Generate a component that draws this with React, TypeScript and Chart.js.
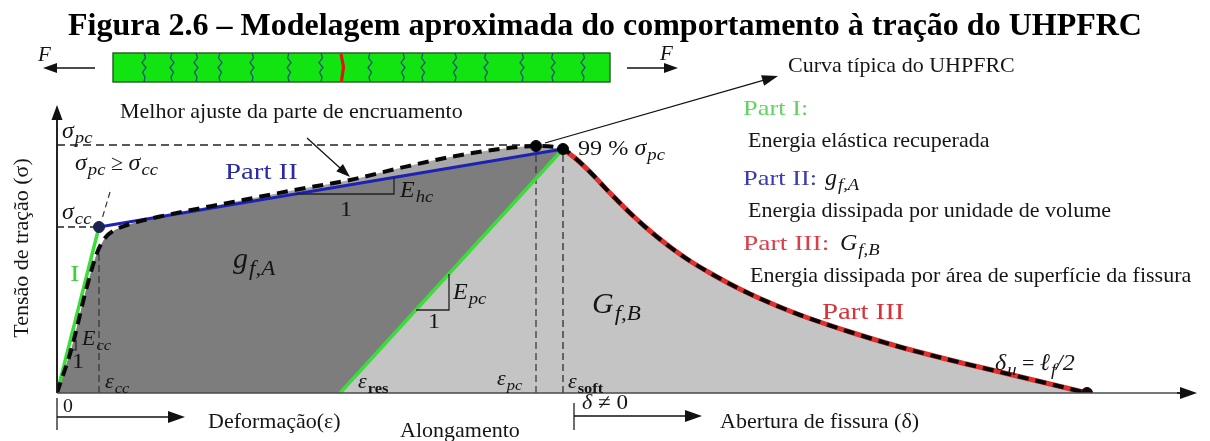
import { useEffect, useRef } from 'react';
import { Chart, registerables } from 'chart.js';

Chart.register(...registerables);

// Schematic axes: strain / crack opening (x) and tensile stress (y), arbitrary units
const X_MAX = 114;
const Y_MAX = 28.8;

// Characteristic values of the tensile response
const SIGMA_PC = 24.8;
const SIGMA_CC = 16.6;
const EPS_CC = 4.2;
const EPS_RES = 28.3;
const EPS_PC = 47.9;
const SIGMA_EPS_PC = 24.7;
const EPS_SOFT = 50.6;
const SIGMA_SOFT = 24.4;
const DELTA_U = 103.0;
const EPS_CC_CURVE = 14.6;

// Part I – linear elastic branch
const elasticPart = [[0, 0], [EPS_CC, SIGMA_CC]];
// Part II – best linear fit of the strain-hardening branch
const hardeningFit = [[EPS_CC, SIGMA_CC], [EPS_SOFT, SIGMA_SOFT]];
// Typical UHPFRC curve up to the softening point
const typicalPrePeak = [
  [0, 0], [1.5, 4.6], [2.9, 10.3], [4.0, 14.0], [4.8, 15.5], [5.8, 16.3], [7.0, 16.8],
  [11.0, 17.8], [17.6, 19.1], [24.3, 20.4], [29.3, 21.3], [34.3, 22.5], [39.3, 23.6],
  [44.3, 24.4], [EPS_PC, SIGMA_EPS_PC], [EPS_SOFT, SIGMA_SOFT],
];
// Part III – softening branch (crack opening)
const softening = [
  [EPS_SOFT, SIGMA_SOFT], [51.8, 23.5], [53.3, 22.1], [55.3, 20.0], [57.3, 18.0], [59.3, 16.2],
  [61.3, 14.6], [63.3, 13.2], [65.3, 12.0], [67.3, 10.9], [69.3, 9.9], [71.8, 8.8], [74.3, 7.8],
  [79.3, 6.1], [84.3, 4.6], [89.3, 3.3], [94.3, 2.1], [99.3, 0.9], [DELTA_U, 0],
];
// Elastic unloading from the softening point down to the residual strain
const unloading = [[EPS_RES, 0], [EPS_SOFT, SIGMA_SOFT]];
// Upper edge of the hardening energy area g_f,A
const darkAreaTop = [...typicalPrePeak.slice(0, 8), hardeningFit[1]];
// Marked points on the curve
const markers = [[EPS_CC, SIGMA_CC], [EPS_PC, SIGMA_EPS_PC], [EPS_SOFT, SIGMA_SOFT], [DELTA_U, 0]];
const markerColors = ['#1b2450', '#050505', '#050505', '#1a0606'];

const TITLE = 'Figura 2.6 – Modelagem aproximada do comportamento à tração do UHPFRC';
const SERIF = "'Liberation Serif', 'Times New Roman', serif";

const pairs = (a: number[][]) => a.map(([x, y]) => ({ x, y }));

type Run = { t: string; size: number; italic?: boolean; bold?: boolean; dy?: number; color?: string; sx?: number; gap?: number };

function runs(ctx: CanvasRenderingContext2D, x: number, y: number, list: Run[], color = '#151515') {
  let cx = x;
  for (const r of list) {
    ctx.font = `${r.italic ? 'italic ' : ''}${r.bold ? 'bold ' : ''}${r.size}px ${SERIF}`;
    ctx.fillStyle = r.color || color;
    const sx = r.sx || 1;
    const gap = r.gap || 0;
    ctx.save();
    ctx.translate(cx + gap, y + (r.dy || 0));
    ctx.scale(sx, 1);
    ctx.fillText(r.t, 0, 0);
    ctx.restore();
    cx += gap + ctx.measureText(r.t).width * sx;
  }
  return cx;
}

function sym(base: string, sub: string, size: number, subItalic = true, color?: string): Run[] {
  return [
    { t: base, size, italic: true, color },
    { t: sub, size: Math.round(size * 0.7), italic: subItalic, bold: !subItalic, dy: size * 0.22, gap: 1, color, sx: 1.1 },
  ];
}

function arrow(ctx: CanvasRenderingContext2D, x1: number, y1: number, x2: number, y2: number, head = 15, half = 5.5, color = '#111', lw = 1.5) {
  const a = Math.atan2(y2 - y1, x2 - x1);
  const c = Math.cos(a);
  const s = Math.sin(a);
  ctx.strokeStyle = color;
  ctx.lineWidth = lw;
  ctx.beginPath();
  ctx.moveTo(x1, y1);
  ctx.lineTo(x2 - c * head * 0.8, y2 - s * head * 0.8);
  ctx.stroke();
  ctx.fillStyle = color;
  ctx.beginPath();
  ctx.moveTo(x2, y2);
  ctx.lineTo(x2 - c * head - s * half, y2 - s * head + c * half);
  ctx.lineTo(x2 - c * head + s * half, y2 - s * head - c * half);
  ctx.closePath();
  ctx.fill();
}

function polyline(ctx: CanvasRenderingContext2D, pts: number[][], color = '#111', lw = 1.2, dash: number[] = []) {
  ctx.strokeStyle = color;
  ctx.lineWidth = lw;
  ctx.setLineDash(dash);
  ctx.beginPath();
  pts.forEach(([x, y], i) => (i ? ctx.lineTo(x, y) : ctx.moveTo(x, y)));
  ctx.stroke();
  ctx.setLineDash([]);
}

// Specimen sketch: fibre-reinforced bar with distributed micro-cracks and one localised crack
const CRACKS = [144, 172, 196, 220, 252, 289, 321, 370, 403, 423, 455, 486, 522, 553, 583];
const MAIN_CRACK = 342;

const annotations = {
  id: 'annotations',
  afterDatasetsDraw(chart: any) {
    const { ctx, chartArea: a, scales } = chart;
    const X = (v: number) => scales.x.getPixelForValue(v);
    const Y = (v: number) => scales.y.getPixelForValue(v);
    ctx.save();
    ctx.textAlign = 'left';
    ctx.textBaseline = 'alphabetic';

    // axes
    ctx.strokeStyle = '#4a4a4a';
    ctx.lineWidth = 1.6;
    ctx.beginPath();
    ctx.moveTo(X(0), Y(0));
    ctx.lineTo(X(0), a.top + 12);
    ctx.stroke();
    arrow(ctx, X(0), Y(0), X(0), a.top, 15, 5.5, '#111', 1.6);
    ctx.strokeStyle = '#4a4a4a';
    ctx.beginPath();
    ctx.moveTo(X(0), Y(0));
    ctx.lineTo(a.right - 12, Y(0));
    ctx.stroke();
    arrow(ctx, a.right - 20, Y(0), a.right, Y(0), 17, 6, '#111', 1.6);

    // slope triangles
    const hcY = 19.9;
    polyline(ctx, [[X(23.8), Y(hcY)], [X(33.7), Y(hcY)], [X(33.7), Y(21.6)]], '#222', 1.3);
    polyline(ctx, [[X(35.9), Y(8.3)], [X(39.2), Y(8.3)], [X(39.2), Y(11.9)]], '#222', 1.3);
    polyline(ctx, [[X(1.1), Y(4.3)], [X(1.9), Y(4.3)], [X(1.9), Y(5.3)]], '#222', 1.2);
    // pointer from the σpc ≥ σcc note
    polyline(ctx, [[X(5.3), Y(20.1)], [X(4.5), Y(17.4)]], '#333', 1.2, [6, 4]);

    // labels inside the plot
    runs(ctx, X(0.5), Y(25.5), sym('σ', 'pc', 24));
    runs(ctx, X(1.8), Y(22.3), [...sym('σ', 'pc', 24), { t: ' ≥ ', size: 22 }, ...sym('σ', 'cc', 24)]);
    runs(ctx, X(0.5), Y(17.4), sym('σ', 'cc', 24));
    runs(ctx, X(16.8), Y(21.4), [{ t: 'Part II', size: 24, sx: 1.2, color: '#2a2aa8' }]);
    runs(ctx, X(1.3), Y(11.2), [{ t: 'I', size: 24, sx: 1.2, color: '#3ccf3c' }]);
    runs(ctx, X(2.5), Y(4.8), sym('E', 'cc', 22));
    runs(ctx, X(1.5), Y(2.5), [{ t: '1', size: 22, sx: 1.1 }]);
    runs(ctx, X(4.8), Y(0.5), sym('ε', 'cc', 22));
    runs(ctx, X(17.6), Y(12.5), sym('g', 'f,A', 30));
    runs(ctx, X(34.3), Y(19.6), sym('E', 'hc', 24));
    runs(ctx, X(28.3), Y(17.7), [{ t: '1', size: 22, sx: 1.1 }]);
    runs(ctx, X(39.6), Y(9.4), sym('E', 'pc', 24));
    runs(ctx, X(37.1), Y(6.5), [{ t: '1', size: 22, sx: 1.1 }]);
    runs(ctx, X(30.1), Y(0.5), sym('ε', 'res', 22, false));
    runs(ctx, X(44.0), Y(0.8), sym('ε', 'pc', 22));
    runs(ctx, X(51.1), Y(0.5), sym('ε', 'soft', 22, false));
    runs(ctx, X(53.5), Y(8.0), sym('G', 'f,B', 30));
    runs(ctx, X(52.1), Y(23.8), [{ t: '99 % ', size: 22, sx: 1.1 }, ...sym('σ', 'pc', 24)]);
    runs(ctx, X(76.5), Y(7.4), [{ t: 'Part III', size: 24, sx: 1.2, color: '#d8323a' }]);
    runs(ctx, X(93.8), Y(2.3), [...sym('δ', 'u', 24), { t: ' = ', size: 22 }, ...sym('ℓ', 'f', 24), { t: '/2', size: 24, italic: true }]);

    // annotation arrows
    arrow(ctx, 307, 138, X(29.3), Y(21.6), 14, 5, '#111', 1.3);
    arrow(ctx, X(48.8), Y(25.0), 778, 76, 16, 5.5, '#111', 1.3);

    // text outside the plot
    runs(ctx, 120, 118, [{ t: 'Melhor ajuste da parte de encruamento', size: 22 }]);
    runs(ctx, 788, 72, [{ t: 'Curva típica do UHPFRC', size: 22 }]);
    runs(ctx, 743, 115, [{ t: 'Part I:', size: 22, sx: 1.2, color: '#62d462' }]);
    runs(ctx, 748, 147, [{ t: 'Energia elástica recuperada', size: 22 }]);
    runs(ctx, 743, 185, [{ t: 'Part II:', size: 22, sx: 1.2, color: '#3b3bb0' }]);
    runs(ctx, 825, 185, sym('g', 'f,A', 24));
    runs(ctx, 748, 217, [{ t: 'Energia dissipada por unidade de volume', size: 22 }]);
    runs(ctx, 743, 250, [{ t: 'Part III:', size: 22, sx: 1.25, color: '#d8404a' }]);
    runs(ctx, 840, 250, sym('G', 'f,B', 24));
    runs(ctx, 750, 282, [{ t: 'Energia dissipada por área de superfície da fissura', size: 22 }]);

    // strain / opening origins below the axis
    ctx.strokeStyle = '#4a4a4a';
    ctx.lineWidth = 1.6;
    ctx.beginPath();
    ctx.moveTo(X(0), 398);
    ctx.lineTo(X(0), 430);
    ctx.moveTo(574, 403);
    ctx.lineTo(574, 430);
    ctx.stroke();
    arrow(ctx, X(0), 417, 185, 417, 17, 6, '#111', 1.6);
    arrow(ctx, 574, 416, 702, 416, 17, 6, '#111', 1.6);
    runs(ctx, 63, 412, [{ t: '0', size: 18, sx: 1.1 }]);
    runs(ctx, 208, 428, [{ t: 'Deformação(ε)', size: 22 }]);
    runs(ctx, 400, 437, [{ t: 'Alongamento', size: 22 }]);
    runs(ctx, 582, 409, [{ t: 'δ', size: 22, italic: true }, { t: ' ≠ 0', size: 21, sx: 1.1 }]);
    runs(ctx, 720, 428, [{ t: 'Abertura de fissura (δ)', size: 22 }]);

    // vertical axis title
    ctx.save();
    ctx.translate(28, 248);
    ctx.rotate(-Math.PI / 2);
    ctx.textAlign = 'center';
    ctx.font = `22px ${SERIF}`;
    ctx.fillStyle = '#151515';
    ctx.fillText('Tensão de tração (σ)', 0, 0);
    ctx.restore();

    // title
    ctx.textAlign = 'center';
    ctx.font = `bold 32px ${SERIF}`;
    ctx.fillStyle = '#000';
    ctx.fillText(TITLE, 605, 35);
    ctx.textAlign = 'left';

    // specimen sketch with the applied forces
    ctx.fillStyle = '#12e412';
    ctx.fillRect(113, 53, 497, 29);
    ctx.strokeStyle = '#245a24';
    ctx.lineWidth = 1.4;
    ctx.strokeRect(113, 53, 497, 29);
    const wobble = [0, 1.5, -2, 2, -1.5, 1, 0];
    CRACKS.forEach((cx, i) => {
      const sgn = i % 2 ? -1 : 1;
      ctx.strokeStyle = '#1f5570';
      ctx.lineWidth = 1.3;
      ctx.beginPath();
      wobble.forEach((w, k) => {
        const yy = 53 + (29 * k) / (wobble.length - 1);
        k ? ctx.lineTo(cx + w * sgn, yy) : ctx.moveTo(cx, yy);
      });
      ctx.stroke();
    });
    ctx.strokeStyle = '#e2160e';
    ctx.lineWidth = 3.2;
    ctx.beginPath();
    ctx.moveTo(MAIN_CRACK - 1, 54);
    ctx.lineTo(MAIN_CRACK + 1.5, 67);
    ctx.lineTo(MAIN_CRACK - 0.5, 81);
    ctx.stroke();
    arrow(ctx, 95, 68, 43, 68, 14, 5, '#111', 1.5);
    arrow(ctx, 627, 68, 678, 68, 14, 5, '#111', 1.5);
    runs(ctx, 38, 61, [{ t: 'F', size: 21, italic: true }]);
    runs(ctx, 660, 60, [{ t: 'F', size: 21, italic: true }]);

    ctx.restore();
  },
};

export default function App() {
  const canvasRef = useRef<HTMLCanvasElement | null>(null);

  useEffect(() => {
    const canvas = canvasRef.current;
    if (!canvas) return;
    const refDash = [7, 4];
    const chart = new Chart(canvas, {
      type: 'line',
      data: {
        datasets: [
          // typical curve (dashed) on top
          {
            data: pairs([...typicalPrePeak, ...softening.slice(1)]),
            borderColor: '#080808', borderWidth: 4, borderDash: [11, 7],
            cubicInterpolationMode: 'monotone', pointRadius: 0, fill: false, order: 0,
          },
          { data: pairs(softening), borderColor: '#e0302e', borderWidth: 5, cubicInterpolationMode: 'monotone', pointRadius: 0, fill: false, order: 1 },
          { data: pairs(hardeningFit), borderColor: '#1e22b4', borderWidth: 3, pointRadius: 0, fill: false, order: 1 },
          { data: pairs(elasticPart), borderColor: '#3ddc3d', borderWidth: 3.5, pointRadius: 0, fill: false, order: 1 },
          { data: pairs(unloading), borderColor: '#3ddc3d', borderWidth: 3.5, pointRadius: 0, fill: false, order: 1 },
          // reference lines
          { data: pairs([[0, SIGMA_PC], [EPS_PC, SIGMA_PC]]), borderColor: '#222', borderWidth: 1.3, borderDash: [8, 5], pointRadius: 0, fill: false, order: 2 },
          { data: pairs([[0, SIGMA_CC], [EPS_CC, SIGMA_CC]]), borderColor: '#222', borderWidth: 1.3, borderDash: refDash, pointRadius: 0, fill: false, order: 2 },
          { data: pairs([[EPS_CC, 0], [EPS_CC, EPS_CC_CURVE]]), borderColor: '#333', borderWidth: 1.2, borderDash: refDash, pointRadius: 0, fill: false, order: 2 },
          { data: pairs([[EPS_PC, 0], [EPS_PC, SIGMA_EPS_PC]]), borderColor: '#333', borderWidth: 1.2, borderDash: refDash, pointRadius: 0, fill: false, order: 2 },
          { data: pairs([[EPS_SOFT, 0], [EPS_SOFT, SIGMA_SOFT]]), borderColor: '#222', borderWidth: 1.2, borderDash: refDash, pointRadius: 0, fill: false, order: 2 },
          // marked points
          {
            data: pairs(markers), showLine: false, pointRadius: 5.5, pointHoverRadius: 5.5,
            pointBackgroundColor: markerColors, pointBorderColor: markerColors, order: -1,
          },
          // energy areas
          { data: pairs(unloading), borderColor: 'rgba(0,0,0,0)', backgroundColor: '#c4c4c4', pointRadius: 0, fill: 'origin', order: 10 },
          { data: pairs(softening), borderColor: 'rgba(0,0,0,0)', backgroundColor: '#c4c4c4', cubicInterpolationMode: 'monotone', pointRadius: 0, fill: 'origin', order: 10 },
          { data: pairs(darkAreaTop), borderColor: 'rgba(0,0,0,0)', backgroundColor: '#7d7d7d', pointRadius: 0, fill: 'origin', order: 11 },
          { data: pairs(typicalPrePeak), borderColor: 'rgba(0,0,0,0)', backgroundColor: '#a8a8a8', cubicInterpolationMode: 'monotone', pointRadius: 0, fill: 'origin', order: 12 },
        ],
      },
      options: {
        responsive: false,
        animation: false,
        devicePixelRatio: 1,
        events: [],
        layout: { padding: { left: 57, right: 13, top: 105, bottom: 48 } },
        scales: {
          x: { type: 'linear', min: 0, max: X_MAX, display: false },
          y: { type: 'linear', min: 0, max: Y_MAX, display: false },
        },
        plugins: { legend: { display: false }, tooltip: { enabled: false } },
      },
      plugins: [annotations],
    } as any);
    return () => chart.destroy();
  }, []);

  return (
    <div style={{ position: 'absolute', left: 0, top: 0, width: 1210, height: 441, background: '#fff' }}>
      <canvas ref={canvasRef} width={1210} height={441} style={{ display: 'block', width: 1210, height: 441 }} />
    </div>
  );
}
